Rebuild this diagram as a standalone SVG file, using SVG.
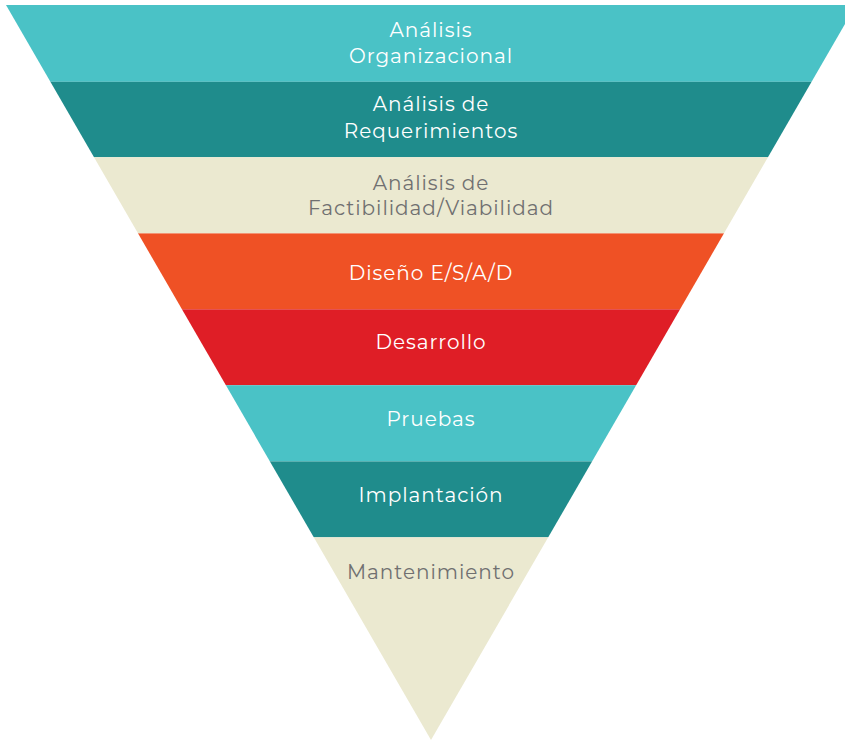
<svg xmlns="http://www.w3.org/2000/svg" width="845" height="740" viewBox="0 0 845 740">
<defs>
<style>
text{font-family:"Montserrat","Open Sans","Liberation Sans",sans-serif;font-size:20px;text-anchor:middle;letter-spacing:0.95px}
.w{fill:#ffffff}
.g{fill:#707070}
</style>
<clipPath id="tri"><polygon points="6,5 856,5 431,740"/></clipPath>
</defs>
<g clip-path="url(#tri)">
<g id="band1"><rect x="0" y="5" width="860" height="76.8" fill="#4AC2C6"/>
<text class="w" x="431" y="37">Análisis</text><text class="w" x="431" y="63">Organizacional</text></g>
<g id="band2"><rect x="0" y="81.8" width="860" height="75.4" fill="#1F8C8C"/>
<text class="w" x="431" y="111">Análisis de</text><text class="w" x="431" y="138">Requerimientos</text></g>
<g id="band3"><rect x="0" y="157.2" width="860" height="76.2" fill="#EBE9D0"/>
<text class="g" x="431" y="190">Análisis de</text><text class="g" x="431" y="215">Factibilidad/Viabilidad</text></g>
<g id="band4"><rect x="0" y="233.4" width="860" height="75.9" fill="#EF5125"/>
<text class="w" x="431" y="280">Diseño E/S/A/D</text></g>
<g id="band5"><rect x="0" y="309.3" width="860" height="75.9" fill="#DF1E26"/>
<text class="w" x="431" y="349">Desarrollo</text></g>
<g id="band6"><rect x="0" y="385.2" width="860" height="76.2" fill="#4AC2C6"/>
<text class="w" x="431" y="426">Pruebas</text></g>
<g id="band7"><rect x="0" y="461.4" width="860" height="75.9" fill="#1F8C8C"/>
<text class="w" x="431" y="502">Implantación</text></g>
<g id="band8"><rect x="0" y="537.3" width="860" height="210" fill="#EBE9D0"/>
<text class="g" x="431" y="579">Mantenimiento</text></g>
</g>
<g id="connectors"/>
</svg>
